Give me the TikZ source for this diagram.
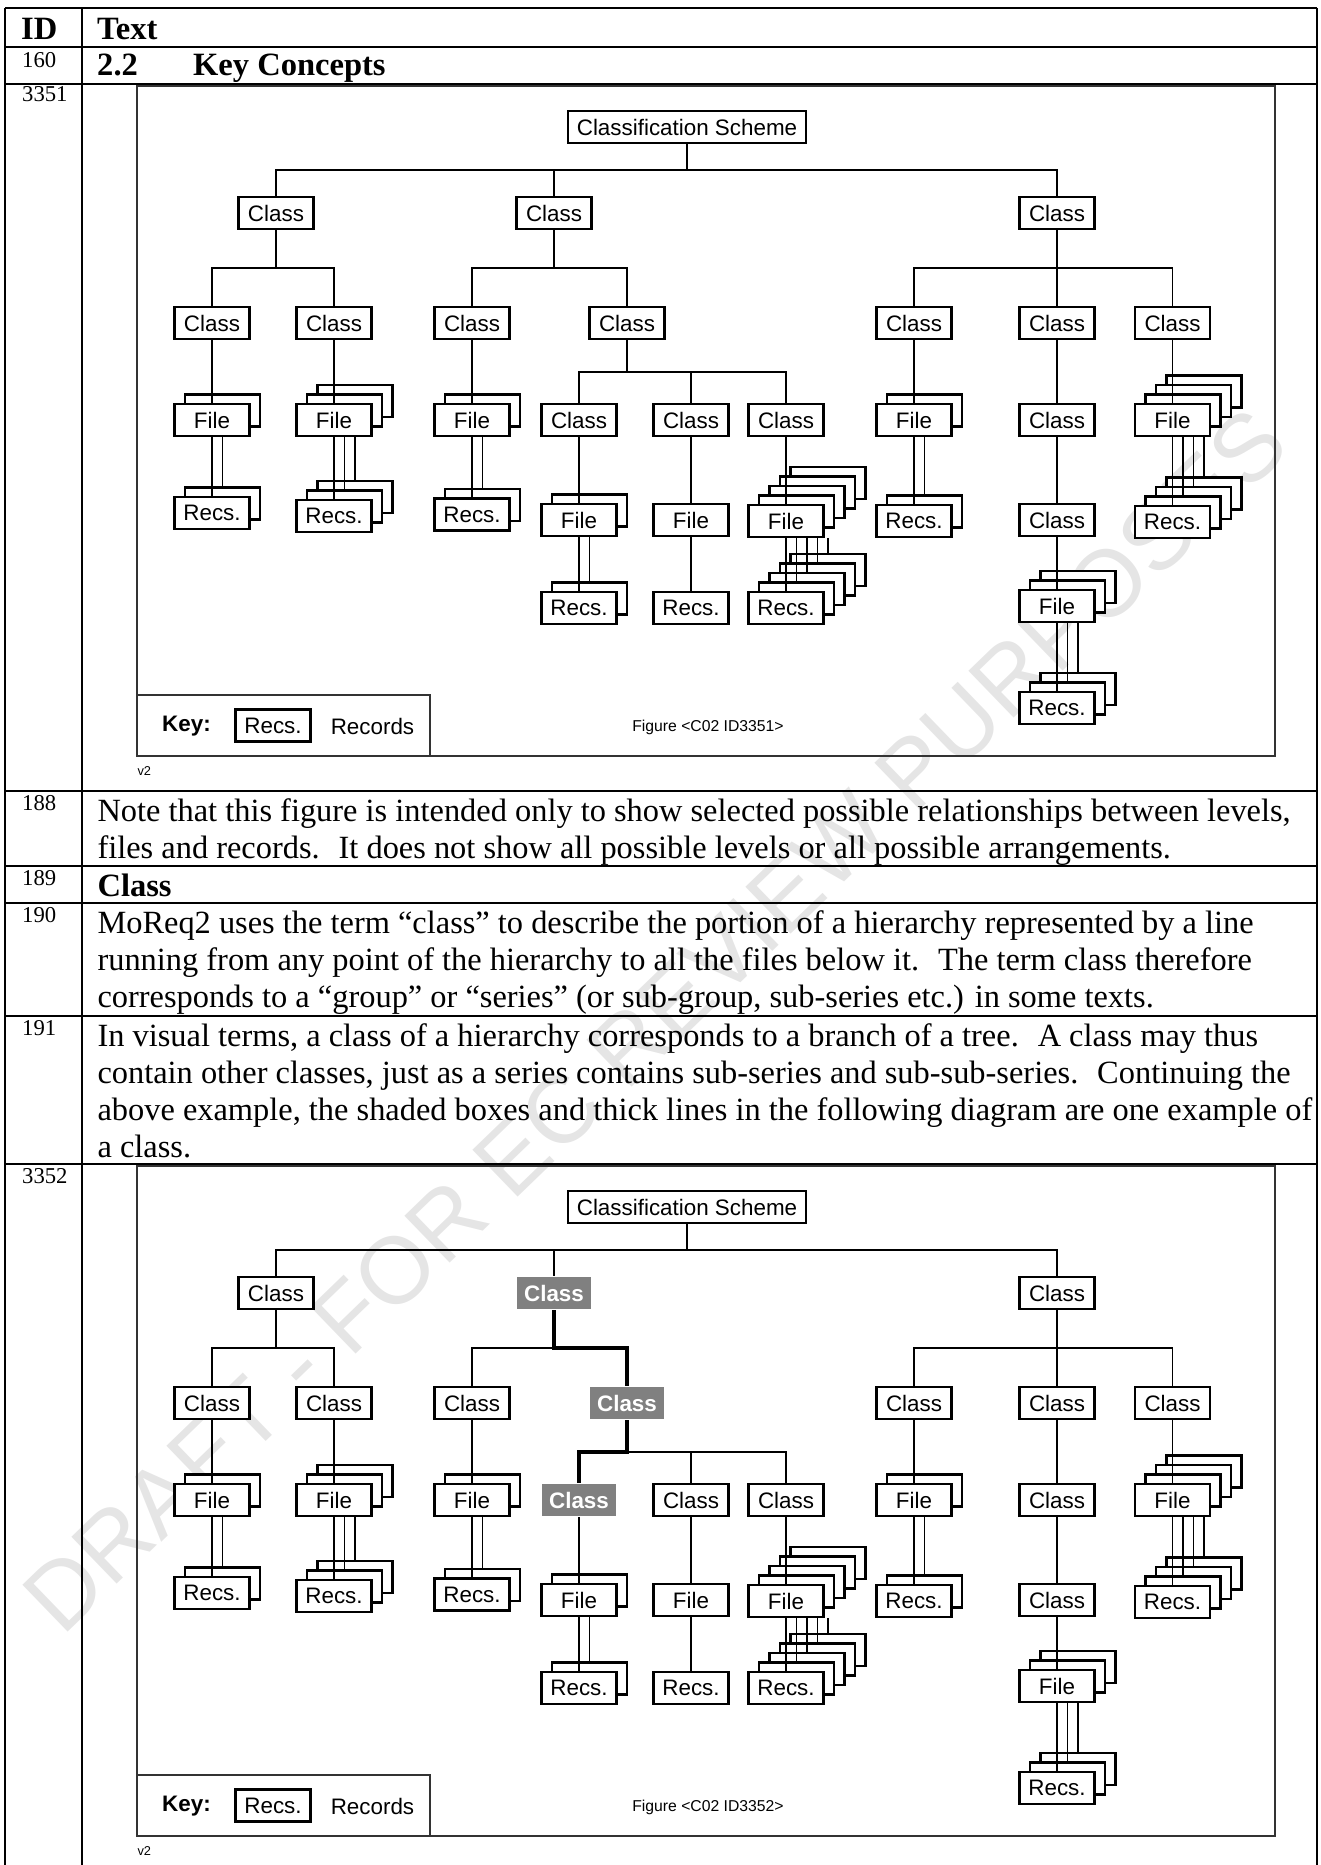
\documentclass[tikz,border=0pt]{standalone}
\usepackage{fontspec}
\setmainfont{Liberation Serif}
\newfontfamily\figsans{Liberation Sans}
\usetikzlibrary{calc}

\tikzset{
 tbl/.style={line width=0.65pt},
 frm/.style={line width=0.45pt, draw=black!80},
 bx/.style={draw, line width=0.8pt, fill=white, minimum width=28.1pt, minimum height=12pt, inner sep=0pt, font=\figsans\fontsize{8.4}{10}\selectfont},
 bxline/.style={draw, line width=0.8pt, fill=white},
 hl/.style={bx, draw=none, fill=black!50, text=white, font=\figsans\bfseries\fontsize{8.4}{10}\selectfont},
 conn/.style={line width=0.4pt},
 thk/.style={line width=1.3pt},
 body/.style={anchor=base west, inner sep=0pt, font=\fontsize{12.15}{14}\selectfont},
 bodyb/.style={anchor=base west, inner sep=0pt, font=\fontsize{12.2}{14}\selectfont\bfseries},
 idn/.style={anchor=base west, inner sep=0pt, font=\fontsize{8.5}{10}\selectfont},
 fs/.style={inner sep=0pt, font=\figsans\fontsize{8.4}{10}\selectfont},
}

% stacked boxes: name, cx, cy, copies, label
\newcommand\stackbox[5]{%
  \ifnum#4>1
    \foreach \k in {#4,...,2}{%
      \pgfmathsetmacro\ox{#2+(\k-1)*10.5}%
      \pgfmathsetmacro\oy{#3-(\k-1)*9.5}%
      \draw[bxline] (\ox-37.5,\oy-16) rectangle (\ox+37.5,\oy+16);
    }%
  \fi
  \node[bx] (#1) at (#2,#3) {#5};
}
% lines from a file stack to its records stack: file, recs, copies
\newcommand\fileline[3]{%
  \foreach \k in {1,...,#3}{%
    \draw[conn] ($(#1.south)+({(\k-1)*10.5},0)$) -- ($(#2.north)+({(\k-1)*10.5},{-(\k-1)*9.5})$);
  }%
}

% prefix, dy, style of shaded classes, style of the class line, figure id
\newcommand\drawfig[5]{%
\begin{scope}[shift={(0,#2)}]
\draw[frm] (137,86) rectangle (1275,756);
\draw[frm] (137,695) rectangle (430,756);
\node[fs, font=\figsans\bfseries\fontsize{8.4}{10}\selectfont] (#1key) at (186.5,726) {Key:};
\node[bx] (#1keyr) at (273,725.5) {Recs.};
\node[fs] (#1keyt) at (372.5,726) {Records};
\node[inner sep=0pt, font=\figsans\fontsize{5.9}{7}\selectfont] (#1cap) at (708,727) {Figure <C02 ID#5>};
\node[anchor=west, inner sep=0pt, font=\figsans\fontsize{4.8}{6}\selectfont] (#1v) at (137,771) {v2};
% nodes
\node[bx, minimum width=89.25pt] (#1sch) at (687,127) {Classification Scheme};
\node[bx] (#1c1) at (276,213) {Class};
\node[#3] (#1c2) at (554,213) {Class};
\node[bx] (#1c3) at (1057,213) {Class};
\node[bx] (#1c11) at (212,323) {Class};
\node[bx] (#1c12) at (334,323) {Class};
\node[bx] (#1c21) at (472,323) {Class};
\node[#3] (#1c22) at (627,323) {Class};
\node[bx] (#1c31) at (914,323) {Class};
\node[bx] (#1c32) at (1057,323) {Class};
\node[bx] (#1c33) at (1172.5,323) {Class};
\stackbox{#1f11}{212}{420}{2}{File}
\stackbox{#1f12}{334}{420}{3}{File}
\stackbox{#1f21}{472}{420}{2}{File}
\node[#3] (#1c221) at (579,420) {Class};
\node[bx] (#1c222) at (691,420) {Class};
\node[bx] (#1c223) at (786,420) {Class};
\stackbox{#1f31}{914}{420}{2}{File}
\node[bx] (#1c321) at (1057,420) {Class};
\stackbox{#1f33}{1172.5}{420}{4}{File}
\stackbox{#1r11}{212}{513}{2}{Recs.}
\stackbox{#1r12}{334}{516}{3}{Recs.}
\stackbox{#1r21}{472}{514.5}{2}{Recs.}
\stackbox{#1f221}{579}{520}{2}{File}
\stackbox{#1f222}{691}{520}{1}{File}
\stackbox{#1f223}{786}{521}{5}{File}
\stackbox{#1r31}{914}{521}{2}{Recs.}
\node[bx] (#1c3211) at (1057,520) {Class};
\stackbox{#1r33}{1172.5}{522}{4}{Recs.}
\stackbox{#1r221}{579}{608}{2}{Recs.}
\stackbox{#1r222}{691}{608}{1}{Recs.}
\stackbox{#1r223}{786}{608}{5}{Recs.}
\stackbox{#1f3211}{1057}{606}{3}{File}
\stackbox{#1r3211}{1057}{708}{3}{Recs.}
% bus points
\coordinate (#1b0) at (687,170);
\coordinate (#1b1) at (276,268);
\coordinate (#1b2) at (554,268);
\coordinate (#1b3) at (1057,268);
\coordinate (#1b22) at (627,372);
% connectors
\draw[conn] (#1sch.south) -- (#1b0);
\draw[conn] (#1c1.north) |- (#1b0) -| (#1c3.north);
\draw[conn] (#1c2.north) -- (#1c2.north |- #1b0);
\draw[conn] (#1c1.south) -- (#1b1);
\draw[conn] (#1c11.north) |- (#1b1) -| (#1c12.north);
\draw[conn] (#1c21.north) |- (#1b2);
\draw[#4] (#1c2.south) -- (#1b2) -| (#1c22.north);
\draw[conn] (#1c3.south) -- (#1c32.north);
\draw[conn] (#1c31.north) |- (#1b3) -| (#1c33.north);
\draw[#4] (#1c22.south) -- (#1b22) -| (#1c221.north);
\draw[conn] (#1b22) -| (#1c223.north);
\draw[conn] (#1c222.north) -- (#1c222.north |- #1b22);
\draw[conn] (#1c11.south) -- (#1f11.north);
\draw[conn] (#1c12.south) -- (#1f12.north);
\draw[conn] (#1c21.south) -- (#1f21.north);
\draw[conn] (#1c221.south) -- (#1f221.north);
\draw[conn] (#1c222.south) -- (#1f222.north);
\draw[conn] (#1c223.south) -- (#1f223.north);
\draw[conn] (#1c31.south) -- (#1f31.north);
\draw[conn] (#1c32.south) -- (#1c321.north);
\draw[conn] (#1c321.south) -- (#1c3211.north);
\draw[conn] (#1c3211.south) -- (#1f3211.north);
\draw[conn] (#1c33.south) -- (#1f33.north);
\fileline{#1f11}{#1r11}{2}
\fileline{#1f12}{#1r12}{3}
\fileline{#1f21}{#1r21}{2}
\fileline{#1f221}{#1r221}{2}
\fileline{#1f222}{#1r222}{1}
\fileline{#1f223}{#1r223}{5}
\fileline{#1f31}{#1r31}{2}
\fileline{#1f3211}{#1r3211}{3}
\fileline{#1f33}{#1r33}{4}
\end{scope}}

\begin{document}
\begin{tikzpicture}[x=0.375pt,y=-0.375pt]
\useasboundingbox (0,0) rectangle (1321,1865);
% watermark
\node[rotate=44, inner sep=0pt, text=black!10, font=\figsans\fontsize{35.5}{40}\selectfont] (wm) at (655,1020) {DRAFT - FOR EC REVIEW PURPOSES};
% table rules
\foreach \yy in {8,46.7,84,791,866,903,1016,1164} \draw[tbl] (5,\yy) -- (1317,\yy);
\draw[tbl] (5,8) -- (5,1865);
\draw[tbl] (81.7,8) -- (81.7,1865);
\draw[tbl] (1317,8) -- (1317,1865);
% header rows
\node[bodyb] (hid) at (20.7,39.3) {ID};
\node[bodyb] (htext) at (96.7,39.3) {Text};
\node[idn] (i160) at (21.7,68) {160};
\node[bodyb] (h22) at (96.7,76) {2.2};
\node[bodyb] (hkc) at (192.6,76) {Key Concepts};
\node[idn] (i3351) at (21.7,102) {3351};
% text rows
\node[idn] (i188) at (21.7,810) {188};
\node[body] (t188a) at (97,821) {Note that this figure is intended only to show selected possible relationships between levels,};
\node[body] (t188b) at (97,858) {files and records.~ It does not show all possible levels or all possible arrangements.};
\node[idn] (i189) at (21.7,885) {189};
\node[bodyb] (t189) at (97,896) {Class};
\node[idn] (i190) at (21.7,922) {190};
\node[body] (t190a) at (97,933) {MoReq2 uses the term “class” to describe the portion of a hierarchy represented by a line};
\node[body] (t190b) at (97,970) {running from any point of the hierarchy to all the files below it.~ The term class therefore};
\node[body] (t190c) at (97,1007) {corresponds to a “group” or “series” (or sub-group, sub-series etc.) in some texts.};
\node[idn] (i191) at (21.7,1035) {191};
\node[body] (t191a) at (97,1046) {In visual terms, a class of a hierarchy corresponds to a branch of a tree.~ A class may thus};
\node[body] (t191b) at (97,1083) {contain other classes, just as a series contains sub-series and sub-sub-series.~ Continuing the};
\node[body] (t191c) at (97,1120) {above example, the shaded boxes and thick lines in the following diagram are one example of};
\node[body] (t191d) at (97,1157) {a class.};
\node[idn] (i3352) at (21.7,1183) {3352};
% figures
\drawfig{a}{0}{bx}{conn}{3351}
\drawfig{b}{1080}{hl}{thk}{3352}
\end{tikzpicture}
\end{document}
